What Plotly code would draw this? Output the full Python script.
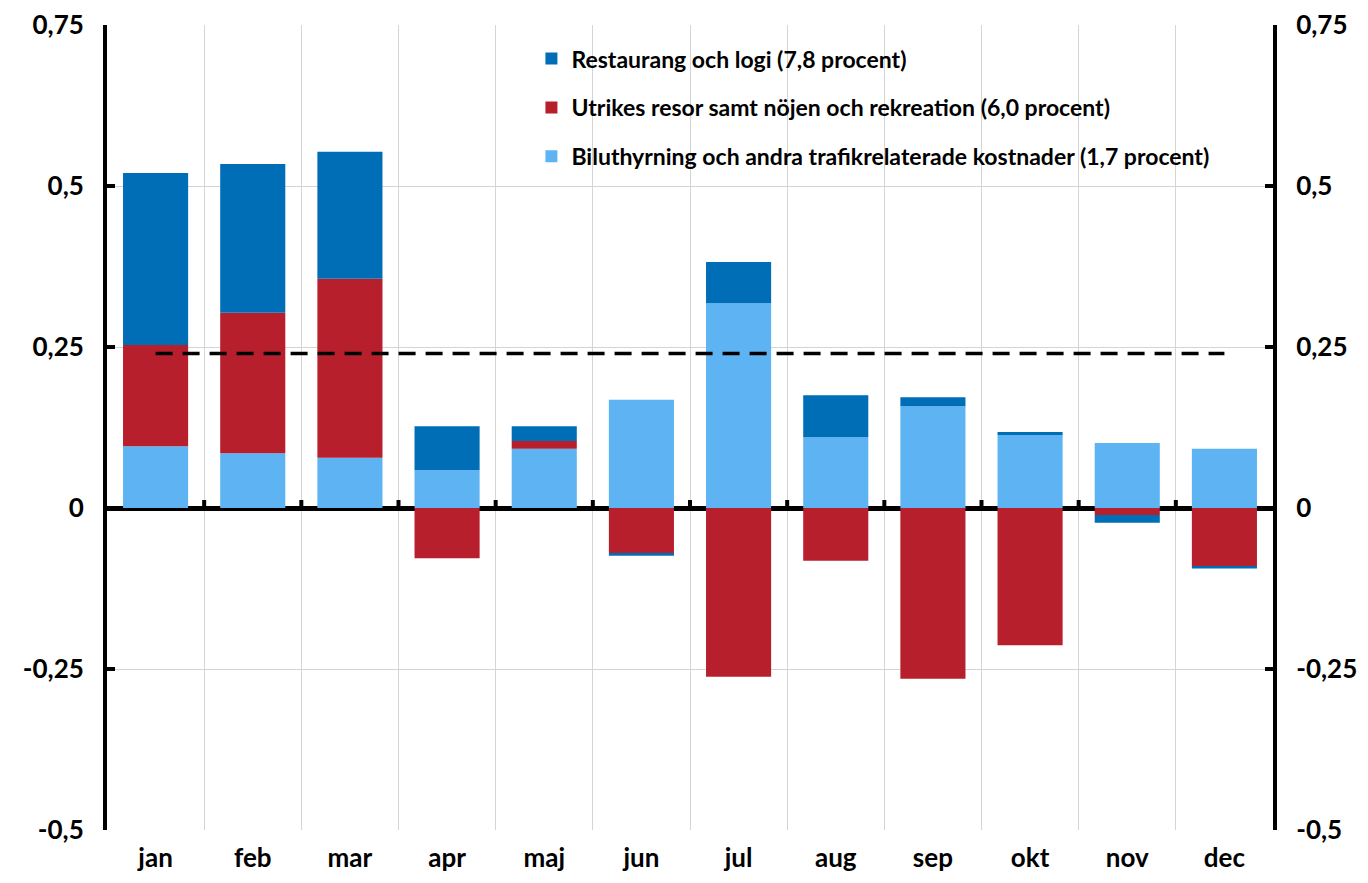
import plotly.graph_objects as go

DARK_BLUE = "#006eb6"
RED = "#b81f2c"
LIGHT_BLUE = "#5eb4f3"
GRID = "#d4d4d4"
FONT = "Lato, 'Open Sans', sans-serif"

months = ["jan", "feb", "mar", "apr", "maj", "jun",
          "jul", "aug", "sep", "okt", "nov", "dec"]

# bidrag per månad, procentenheter
bil_trafik = [0.096, 0.085, 0.078, 0.059, 0.092, 0.168,
              0.318, 0.110, 0.158, 0.113, 0.101, 0.092]
utrikes_noje = [0.157, 0.218, 0.278, -0.078, 0.012, -0.070,
                -0.262, -0.082, -0.265, -0.213, -0.011, -0.090]
restaurang = [0.267, 0.231, 0.197, 0.068, 0.023, -0.004,
              0.064, 0.065, 0.014, 0.005, -0.012, -0.004]
snitt = [0.24] * 12

ytick_vals = [0.75, 0.5, 0.25, 0, -0.25, -0.5]
ytick_text = ["0,75", "0,5", "0,25", "0", "-0,25", "-0,5"]
yrange = [-0.5, 0.75]

fig = go.Figure()

series = [
    ("Biluthyrning och andra trafikrelaterade kostnader (1,7 procent)", bil_trafik, LIGHT_BLUE, 3),
    ("Utrikes resor samt nöjen och rekreation (6,0 procent)", utrikes_noje, RED, 2),
    ("Restaurang och logi (7,8 procent)", restaurang, DARK_BLUE, 1),
]
for name, vals, col, rank in series:
    fig.add_trace(go.Bar(
        x=months, y=vals, name=name,
        marker=dict(color=col, line=dict(width=0)),
        legendgroup=name, legendrank=rank,
    ))

fig.add_trace(go.Scatter(
    x=months, y=snitt, mode="lines", showlegend=False,
    line=dict(color="black", width=3.5, dash="17px,10px"),
    hoverinfo="skip",
))

# osynlig trace för höger axel
fig.add_trace(go.Scatter(
    x=months, y=[None] * 12, yaxis="y2", showlegend=False, hoverinfo="skip",
))

# små streck på nollinjen mellan kategorierna
for i in range(1, len(months)):
    fig.add_shape(
        type="line", xref="x", yref="y",
        x0=i - 0.5, x1=i - 0.5,
        ysizemode="pixel", yanchor=0, y0=0, y1=8,
        line=dict(color="black", width=4),
    )

axis_y = dict(
    range=yrange, tickvals=ytick_vals, ticktext=ytick_text,
    showgrid=True, gridcolor=GRID, gridwidth=1,
    showline=True, linecolor="black", linewidth=4,
    ticks="inside", ticklen=8, tickwidth=4, tickcolor="black",
    tickfont=dict(family=FONT, size=26, color="black", weight="bold"),
    ticklabelstandoff=14, automargin=False,
)

# sidan har 8px marginal i body, därför förskjutna marginaler
fig.update_layout(
    width=1368, height=883,
    paper_bgcolor="white", plot_bgcolor="white",
    barmode="relative", bargap=0.33,
    margin=dict(l=99, r=103, t=17, b=61),
    font=dict(family=FONT, color="black"),
    legend=dict(
        x=0.364, y=0.985, xanchor="left", yanchor="top",
        bgcolor="rgba(0,0,0,0)",
        font=dict(family=FONT, size=23, color="black", weight="bold"),
        tracegroupgap=16, itemwidth=30,
    ),
    xaxis=dict(
        type="category", range=[-0.5, len(months) - 0.5], tickson="boundaries",
        showgrid=True, gridcolor=GRID, gridwidth=1,
        showline=False, ticks="",
        tickfont=dict(family=FONT, size=26, color="black", weight="bold"),
        ticklabelstandoff=10, automargin=False,
    ),
    yaxis=dict(**axis_y, zeroline=True, zerolinecolor="black", zerolinewidth=5),
    yaxis2=dict(**axis_y, overlaying="y", side="right", zeroline=False),
)

fig.write_html("out.html")
